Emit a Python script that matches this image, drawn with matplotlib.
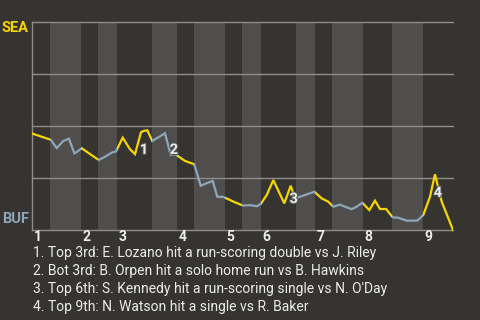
import matplotlib
matplotlib.use("Agg")
import matplotlib.pyplot as plt
from matplotlib.patches import Rectangle
import matplotlib.patheffects as pe

# ---- data ----
away_team = "SEA"
home_team = "BUF"
# game progress (0-100) and SEA win probability (%)
progress = [0.0, 4.44, 5.87, 7.43, 8.79, 10.05, 10.62, 11.81, 15.37, 15.91,
            17.34, 18.93, 19.95, 21.54, 23.28, 24.47, 25.89, 26.60, 27.39, 28.57,
            31.59, 32.95, 33.97, 36.34, 38.55, 40.07, 41.50, 42.92, 44.01, 45.44,
            48.22, 50.19, 51.78, 53.37, 54.32, 55.75, 57.32, 59.93, 61.45, 62.47,
            64.85, 67.05, 68.81, 70.38, 71.57, 73.16, 74.35, 75.94, 77.13, 78.46,
            80.12, 81.47, 82.66, 84.09, 85.68, 87.01, 89.00, 91.52, 92.94, 94.54,
            95.72, 97.32, 100.0]
sea_wp = [46.4, 43.4, 39.4, 42.8, 43.9, 36.9, 37.5, 39.3, 34.3, 33.7,
          35.2, 37.2, 37.8, 44.4, 38.8, 36.5, 47.0, 47.7, 47.9, 42.8,
          46.5, 36.1, 36.5, 33.2, 31.6, 21.3, 22.5, 23.6, 16.0, 15.9,
          13.3, 11.7, 12.0, 11.4, 12.5, 16.8, 24.0, 12.8, 21.3, 15.2,
          16.8, 18.4, 15.2, 13.6, 11.2, 12.2, 11.2, 10.0, 11.2, 13.1,
          9.6, 14.1, 10.1, 10.1, 6.1, 5.9, 4.5, 4.5, 7.2, 16.0,
          26.8, 13.6, 0.0]
# half-inning start positions (top 1, bot 1, top 2, ...), last = end of game
half_starts = [0.0, 4.28, 11.64, 15.68, 20.19, 28.50, 34.44, 38.48, 45.84,
               49.88, 54.39, 62.71, 67.22, 71.26, 78.62, 85.51, 92.87, 100.0]
inning_labels = ["1", "2", "3", "4", "5", "6", "7", "8", "9"]
event_ids = ["1", "2", "3", "4"]
event_x = [26.6, 33.7, 62.2, 96.4]
event_wp = [38.5, 38.5, 14.9, 17.8]
event_texts = [
    "1. Top 3rd: E. Lozano hit a run-scoring double vs J. Riley",
    "2. Bot 3rd: B. Orpen hit a solo home run vs B. Hawkins",
    "3. Top 6th: S. Kennedy hit a run-scoring single vs N. O'Day",
    "4. Top 9th: N. Watson hit a single vs R. Baker",
]

# ---- style ----
bg = "#363430"
band = "#4f4e4c"
grid_c = "#8e8d8a"
yellow = "#f7d600"
blue = "#8ea7b8"
txt = "#ececec"
plt.rcParams["font.family"] = ["Roboto", "DejaVu Sans"]

W, H = 480, 320
fig = plt.figure(figsize=(4.8, 3.2), dpi=100, facecolor=bg)
ax = fig.add_axes([32 / W, 1 - 230 / H, 421 / W, 208 / H])
ax.set_facecolor(bg)
ax.set_xlim(0, 100)
ax.set_ylim(0, 100)
for s in ax.spines.values():
    s.set_visible(False)
ax.set_xticks([])
ax.set_yticks([])

# bands and clipped line pieces
for i in range(len(half_starts) - 1):
    x0, x1 = half_starts[i], half_starts[i + 1]
    top_half = (i % 2 == 0)
    rect = Rectangle((x0, -5), x1 - x0, 110, facecolor=bg if top_half else band,
                     edgecolor="none", zorder=0)
    ax.add_patch(rect)
    clip = Rectangle((x0, -5), x1 - x0, 110, transform=ax.transData,
                     facecolor="none", edgecolor="none")
    ln, = ax.plot(progress, sea_wp, color=yellow if top_half else blue,
                  lw=1.6, zorder=3, solid_joinstyle="miter", clip_on=True)
    ln.set_clip_path(clip)

for yv in [0, 25, 50, 75, 100]:
    ax.axhline(yv, color=grid_c, lw=1.0, zorder=1, clip_on=False)
ax.axvline(0, color=grid_c, lw=1.0, zorder=1, clip_on=False)

# event markers
for eid, ex, ey in zip(event_ids, event_x, event_wp):
    ax.text(ex, ey, eid, color=txt, fontsize=10.5, fontweight="bold",
            ha="center", va="center", zorder=5,
            path_effects=[pe.withStroke(linewidth=1.5, foreground="#555555")])

# inning labels
for k, lab in enumerate(inning_labels):
    ax.text(half_starts[2 * k] + 0.4, -3.4, lab, color=txt, fontsize=10,
            fontweight="bold", ha="left", va="center")

# team labels
fig.text(2 / W, 1 - 28 / H, away_team, color=yellow, fontsize=10.5,
         fontweight="bold", ha="left", va="center")
fig.text(2 / W, 1 - 219 / H, home_team, color=blue, fontsize=10.5,
         fontweight="bold", ha="left", va="center")

# event descriptions
for j, t in enumerate(event_texts):
    fig.text(33 / W, 1 - (253.5 + 17.8 * j) / H, t, color=txt, fontsize=10,
             ha="left", va="center")

fig.savefig("out.png", dpi=100, facecolor=bg)
